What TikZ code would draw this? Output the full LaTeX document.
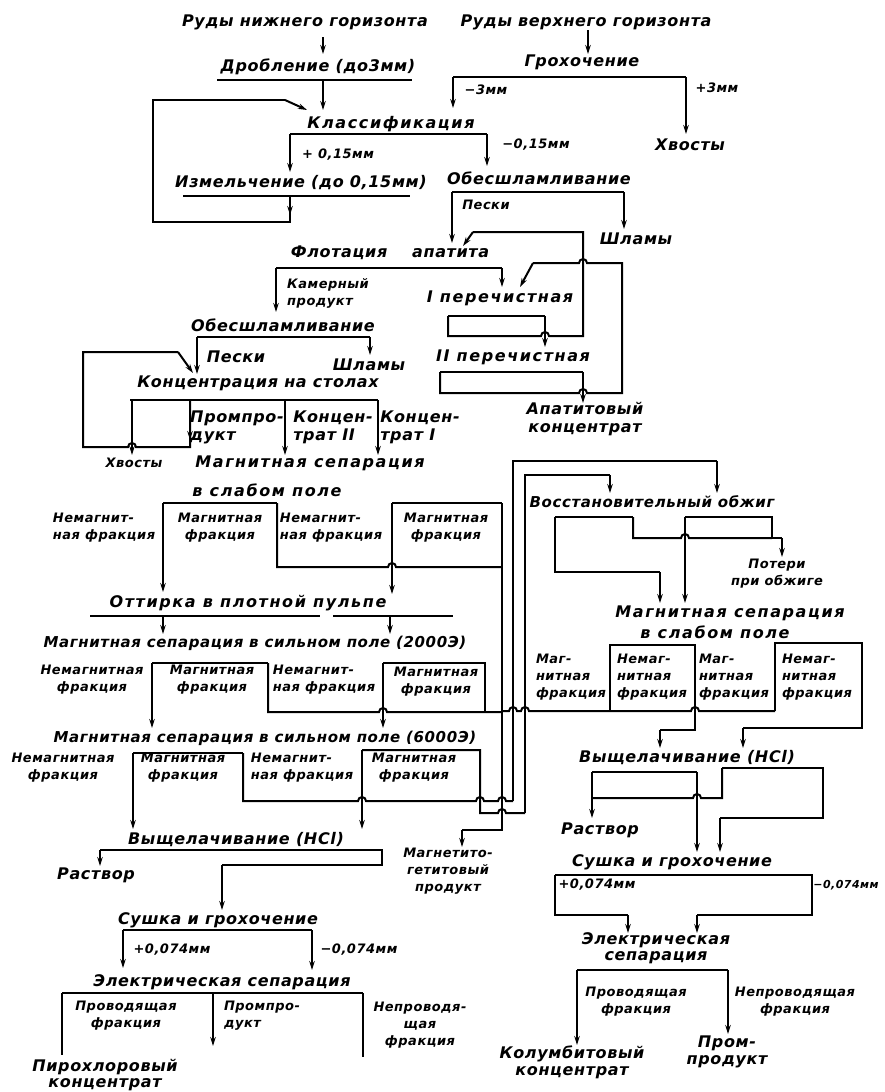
\documentclass[tikz,border=0pt]{standalone}
\usepackage{fontspec}
\setmainfont{DejaVu Sans}
\newfontfamily\tfa{DejaVu Sans}[LetterSpace=4]
\newfontfamily\tfc{DejaVu Sans}[LetterSpace=10]
\usetikzlibrary{arrows.meta}
\tikzset{
 ttl/.style={font=\tfa\bfseries\itshape\fontsize{16}{18}\selectfont, inner sep=0pt, align=center},
 ttlw/.style={ttl, font=\tfc\bfseries\itshape\fontsize{16}{18}\selectfont},
 ttls/.style={font=\tfa\bfseries\itshape\fontsize{15}{17}\selectfont, inner sep=0pt, align=center},
 lbl/.style={font=\tfa\bfseries\itshape\fontsize{13}{17}\selectfont, inner sep=0pt, align=center},
 lbll/.style={lbl, align=left},
 ln/.style={line width=2pt},
 ar/.style={line width=2pt, -{Stealth[length=9pt,width=5.5pt]}},
}
\begin{document}
\begin{tikzpicture}[x=1pt,y=-1pt]
\fill[white] (0,0) rectangle (884,1092);
\useasboundingbox (0,0) rectangle (884,1092);
% ---------- texts ----------
\node[ttl] (ruN) at (305,22) {Руды нижнего горизонта};
\node[ttl] (ruV) at (586,22) {Руды верхнего горизонта};
\node[ttl] (drob) at (318,67) {Дробление (до3мм)};
\node[ttl] (groh) at (582,62) {Грохочение};
\node[ttlw] (klass) at (391,124) {Классификация};
\node[lbl] (m3) at (486,90) {−3мм};
\node[lbl] (p3) at (717,88) {+3мм};
\node[ttl] (hv1) at (690,145) {Хвосты};
\node[lbl] (p015) at (338,155) {+ 0,15мм};
\node[lbl] (m015) at (536,145) {−0,15мм};
\node[ttl] (izm) at (301,183) {Измельчение (до 0,15мм)};
\node[ttl] (obes1) at (539,178) {Обесшламливание};
\node[lbl] (peski1) at (486,205) {Пески};
\node[ttl] (shl1) at (636,239) {Шламы};
\node[ttl] (flot) at (390,253) {Флотация\ \ \ \ апатита};
\node[lbll] (kam) at (328,293) {Камерный\\продукт};
\node[ttlw] (per1) at (500,298) {I перечистная};
\node[ttlw] (per2) at (513,357) {II перечистная};
\node[ttl] (apk) at (585,419) {Апатитовый\\концентрат};
\node[ttl] (obes2) at (283,325) {Обесшламливание};
\node[ttl] (peski2) at (236,357) {Пески};
\node[ttl] (shl2) at (369,365) {Шламы};
\node[ttl] (konc) at (258,383) {Концентрация на столах};
\node[ttl,align=left] (promp1) at (237,427) {Промпро-\\дукт};
\node[ttl,align=left] (kII) at (333,427) {Концен-\\трат II};
\node[ttl,align=left] (kI) at (420,427) {Концен-\\трат I};
\node[lbl] (hv2) at (134,463) {Хвосты};
\node[ttlw] (ms1) at (310,463) {Магнитная сепарация};
\node[ttlw] (ms1b) at (267,490) {в слабом поле};
\node[lbll] (w1a) at (104,528) {Немагнит-\\ная фракция};
\node[lbl] (w1b) at (220,528) {Магнитная\\фракция};
\node[lbll] (w1c) at (331,528) {Немагнит-\\ная фракция};
\node[lbl] (w1d) at (446,528) {Магнитная\\фракция};
\node[ttlw] (ott) at (248,603) {Оттирка в плотной пульпе};
\node[ttls] (s2000) at (255,643) {Магнитная сепарация в сильном поле (2000Э)};
\node[lbl] (a1) at (92,680) {Немагнитная\\фракция};
\node[lbl] (a2) at (212,680) {Магнитная\\фракция};
\node[lbll] (a3) at (324,680) {Немагнит-\\ная фракция};
\node[lbl] (a4) at (436,682) {Магнитная\\фракция};
\node[ttls] (s6000) at (265,738) {Магнитная сепарация в сильном поле (6000Э)};
\node[lbl] (b1) at (63,768) {Немагнитная\\фракция};
\node[lbl] (b2) at (183,768) {Магнитная\\фракция};
\node[lbll] (b3) at (302,768) {Немагнит-\\ная фракция};
\node[lbl] (b4) at (414,768) {Магнитная\\фракция};
\node[ttl] (vysh1) at (236,840) {Выщелачивание (HCl)};
\node[ttl] (rastv1) at (96,875) {Раствор};
\node[lbl] (mgp) at (448,871) {Магнетито-\\гетитовый\\продукт};
\node[ttl] (sush1) at (218,920) {Сушка и грохочение};
\node[lbl] (p074a) at (172,950) {+0,074мм};
\node[lbl] (m074a) at (359,950) {−0,074мм};
\node[ttl] (el1) at (222,982) {Электрическая сепарация};
\node[lbl] (pf1) at (126,1016) {Проводящая\\фракция};
\node[lbll] (pp1) at (262,1016) {Промпро-\\дукт};
\node[lbl] (nf1) at (420,1025) {Непроводя-\\щая\\фракция};
\node[ttl,font=\tfa\bfseries\itshape\fontsize{16}{16}\selectfont] (pir) at (105,1075) {Пирохлоровый\\концентрат};
\node[ttls] (vos) at (652,502) {Восстановительный обжиг};
\node[lbl] (pot) at (777,574) {Потери\\при обжиге};
\node[ttlw] (ms2) at (730,613) {Магнитная сепарация};
\node[ttlw] (ms2b) at (715,632) {в слабом поле};
\node[lbll] (c1) at (571,677) {Маг-\\нитная\\фракция};
\node[lbll] (c2) at (652,677) {Немаг-\\нитная\\фракция};
\node[lbll] (c3) at (734,677) {Маг-\\нитная\\фракция};
\node[lbll] (c4) at (817,677) {Немаг-\\нитная\\фракция};
\node[ttl] (vysh2) at (687,758) {Выщелачивание (HCl)};
\node[ttl] (rastv2) at (600,830) {Раствор};
\node[ttl] (sush2) at (672,862) {Сушка и грохочение};
\node[lbl] (p074b) at (597,885) {+0,074мм};
\node[lbl,font=\tfa\bfseries\itshape\fontsize{11}{13}\selectfont] (m074b) at (846,885) {−0,074мм};
\node[ttl,font=\tfa\bfseries\itshape\fontsize{16}{16}\selectfont] (el2) at (656,948) {Электрическая\\сепарация};
\node[lbl] (pf2) at (636,1002) {Проводящая\\фракция};
\node[lbl] (nf2) at (795,1002) {Непроводящая\\фракция};
\node[ttl,font=\tfa\bfseries\itshape\fontsize{16}{17}\selectfont] (kol) at (572,1062) {Колумбитовый\\концентрат};
\node[ttl,font=\tfa\bfseries\itshape\fontsize{16}{17}\selectfont] (pp2) at (727,1052) {Пром-\\продукт};
% ---------- lines: top ----------
\draw[ar] (323,37) -- (323,54);
\draw[ln] (217,80) -- (412,80);
\draw[ar] (323,80) -- (323,110);
\draw[ln] (290,134) -- (487,134);
\draw[ar] (290,134) -- (290,172);
\draw[ar] (487,134) -- (487,166);
\draw[ln] (183,196) -- (410,196);
\draw[ln] (290,196) -- (290,222) -- (153,222) -- (153,100) -- (285,100);
\draw[ar] (290,198) -- (290,215);
\draw[ar] (285,100) -- (307,110);
\draw[ar] (588,30) -- (588,54);
\draw[ln] (453,77) -- (686,77);
\draw[ar] (453,77) -- (453,108);
\draw[ar] (686,77) -- (686,134);
\draw[ln] (452,192) -- (624,192);
\draw[ar] (452,192) -- (452,243);
\draw[ar] (624,192) -- (624,229);
% flotation
\draw[ln] (276,268) -- (502,268);
\draw[ar] (276,268) -- (276,312);
\draw[ar] (502,268) -- (502,287);
\draw[ln] (448,316) -- (545,316);
\draw[ln] (448,316) -- (448,336) -- (541,336) arc[start angle=180,end angle=360,radius=4] -- (583,336) -- (583,232) -- (473,232);
\draw[ar] (473,232) -- (463,246);
\draw[ar] (545,316) -- (545,347);
\draw[ln] (440,372) -- (583,372);
\draw[ln] (440,372) -- (440,393) -- (579,393) arc[start angle=180,end angle=360,radius=4] -- (622,393) -- (622,263) -- (587,263) arc[start angle=0,end angle=-180,radius=4] -- (533,263);
\draw[ar] (533,263) -- (520,287);
\draw[ar] (583,372) -- (583,403);
% second desliming, tables
\draw[ln] (197,337) -- (370,337);
\draw[ar] (197,337) -- (197,374);
\draw[ar] (370,337) -- (370,355);
\draw[ln] (130,400) -- (378,400);
\draw[ar] (132,400) -- (132,455);
\draw[ln] (190,400) -- (190,447) -- (136,447) arc[start angle=0,end angle=-180,radius=4] -- (83,447) -- (83,352) -- (178,352);
\draw[ar] (190,420) -- (190,440);
\draw[ar] (178,352) -- (193,373);
\draw[ar] (285,400) -- (285,455);
\draw[ar] (378,400) -- (378,455);
% weak field 1
\draw[ln] (163,503) -- (277,503);
\draw[ar] (163,503) -- (163,592);
\draw[ln] (277,503) -- (277,567) -- (388,567) arc[start angle=180,end angle=360,radius=4] -- (502,567);
\draw[ln] (392,503) -- (502,503);
\draw[ar] (392,503) -- (392,594);
\draw[ln] (502,503) -- (502,830) -- (462,830);
\draw[ar] (462,830) -- (462,847);
% attrition
\draw[ln] (90,616) -- (320,616);
\draw[ln] (333,616) -- (453,616);
\draw[ar] (163,616) -- (163,634);
\draw[ar] (390,616) -- (390,634);
% 2000
\draw[ln] (152,663) -- (268,663);
\draw[ar] (152,663) -- (152,728);
\draw[ln] (268,663) -- (268,712) -- (379,712) arc[start angle=180,end angle=360,radius=4] -- (502,712);
\draw[ln] (383,663) -- (485,663) -- (485,712);
\draw[ar] (383,663) -- (383,728);
% 6000
\draw[ln] (133,753) -- (243,753);
\draw[ar] (133,753) -- (133,829);
\draw[ln] (362,750) -- (480,750) -- (480,813) -- (498,813) arc[start angle=180,end angle=360,radius=4] -- (525,813);
\draw[ar] (362,750) -- (362,829);
\draw[ln] (243,753) -- (243,801) -- (358,801) arc[start angle=180,end angle=360,radius=4] -- (476,801) arc[start angle=180,end angle=360,radius=4] -- (498,801) arc[start angle=180,end angle=360,radius=4] -- (513,801);
% roasting feed loops
\draw[ln] (513,801) -- (513,461) -- (717,461);
\draw[ar] (717,461) -- (717,493);
\draw[ln] (525,813) -- (525,475) -- (610,475);
\draw[ar] (610,475) -- (610,493);
% roasting
\draw[ln] (555,517) -- (633,517);
\draw[ln] (555,517) -- (555,572) -- (660,572);
\draw[ar] (660,572) -- (660,603);
\draw[ln] (633,517) -- (633,538) -- (681,538) arc[start angle=180,end angle=360,radius=4] -- (772,538);
\draw[ln] (685,517) -- (772,517) -- (772,538) -- (782,538);
\draw[ar] (782,538) -- (782,557);
\draw[ar] (685,517) -- (685,603);
% weak field 2
\draw[ln] (502,711) -- (509,711) arc[start angle=180,end angle=360,radius=4] -- (521,711) arc[start angle=180,end angle=360,radius=4] -- (691,711) arc[start angle=180,end angle=360,radius=4] -- (775,711);
\draw[ln] (610,711) -- (610,645) -- (695,645) -- (695,730) -- (660,730);
\draw[ar] (660,730) -- (660,748);
\draw[ln] (775,711) -- (775,643) -- (862,643) -- (862,728) -- (743,728);
\draw[ar] (743,728) -- (743,748);
% leaching right
\draw[ln] (592,772) -- (697,772);
\draw[ar] (697,772) -- (697,852);
\draw[ar] (592,772) -- (592,818);
\draw[ln] (722,768) -- (722,798) -- (701,798) arc[start angle=0,end angle=-180,radius=4] -- (592,798);
\draw[ln] (722,768) -- (823,768) -- (823,818) -- (720,818);
\draw[ar] (720,818) -- (720,852);
% drying right
\draw[ln] (555,875) -- (812,875) -- (812,915) -- (697,915);
\draw[ar] (697,915) -- (697,933);
\draw[ln] (555,875) -- (555,915) -- (628,915);
\draw[ar] (628,915) -- (628,933);
\draw[ln] (577,970) -- (728,970);
\draw[ar] (577,970) -- (577,1045);
\draw[ar] (728,970) -- (728,1034);
% leaching left
\draw[ln] (100,850) -- (382,850) -- (382,865) -- (222,865);
\draw[ar] (100,850) -- (100,866);
\draw[ar] (222,865) -- (222,910);
\draw[ln] (123,930) -- (312,930);
\draw[ar] (123,930) -- (123,968);
\draw[ar] (312,930) -- (312,970);
\draw[ln] (62,993) -- (363,993);
\draw[ln] (62,993) -- (62,1055);
\draw[ar] (213,993) -- (213,1046);
\draw[ln] (363,993) -- (363,1057);
\end{tikzpicture}
\end{document}
